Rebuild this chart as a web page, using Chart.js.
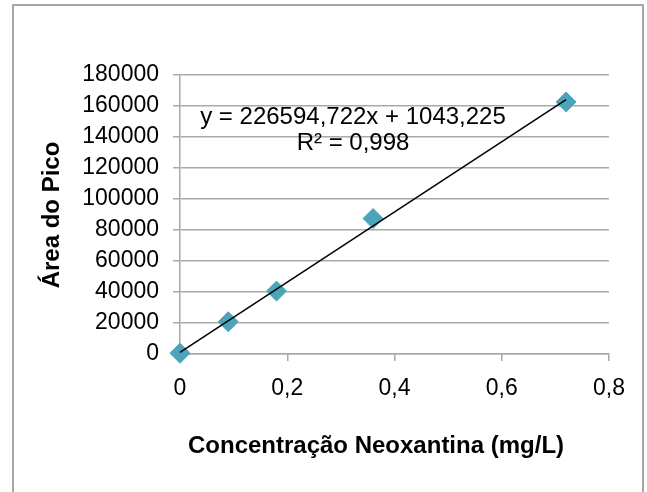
<!DOCTYPE html>
<html>
<head>
<meta charset="utf-8">
<script src="https://cdn.jsdelivr.net/npm/chart.js@4"></script>
<style>
  html, body { margin: 0; padding: 0; background: #fff; }
  #wrap { width: 647px; height: 492px; }
</style>
</head>
<body>
<div id="wrap"><canvas id="c" width="647" height="492"></canvas></div>
<script>
// calibration points
const concentrations = [0, 0.09, 0.18, 0.36, 0.72];
const peakAreas = [500, 20800, 40600, 87400, 162600];

// linear trendline as printed on the chart
const slope = 226594.722;
const intercept = 1043.225;
const equationText = "y = 226594,722x + 1043,225";
const r2Text = "R\u00b2 = 0,998";

const xTitle = "Concentração Neoxantina (mg/L)";
const yTitle = "Área do Pico";

const FONT = '"Liberation Sans", Arial, sans-serif';
const GRID = "#a9a9a9";
const MARKER = "#4aa5ba";

const points = concentrations.map((x, i) => ({ x, y: peakAreas[i] }));
const xEnd = concentrations[concentrations.length - 1];
const trend = [
  { x: concentrations[0], y: slope * concentrations[0] + intercept },
  { x: xEnd, y: slope * xEnd + intercept },
];

const fmtComma = (v) => (v === 0 ? "0" : Number(v).toFixed(1).replace(".", ","));

// frame, axis titles and trendline label
const annotations = {
  id: "annotations",
  beforeDraw(chart) {
    const { ctx } = chart;
    ctx.save();
    ctx.fillStyle = "#fff";
    ctx.fillRect(0, 0, chart.width, chart.height);
    ctx.strokeStyle = "#a6a6a6";
    ctx.lineWidth = 2;
    ctx.strokeRect(13, 5, 630, 500);
    ctx.restore();
  },
  afterDraw(chart) {
    const { ctx } = chart;
    ctx.save();
    ctx.fillStyle = "#000";
    ctx.textAlign = "center";
    ctx.textBaseline = "middle";

    ctx.font = `bold 24px ${FONT}`;
    ctx.fillText(xTitle, 376, 446);
    ctx.translate(52, 215);
    ctx.rotate(-Math.PI / 2);
    ctx.fillText(yTitle, 0, 0);
    ctx.setTransform(1, 0, 0, 1, 0, 0);

    ctx.font = `24px ${FONT}`;
    ctx.fillText(equationText, 353, 117);
    ctx.fillText(r2Text, 353, 143);
    ctx.restore();
  },
};

new Chart(document.getElementById("c"), {
  type: "scatter",
  data: {
    datasets: [
      {
        type: "line",
        label: "Linear",
        data: trend,
        borderColor: "#000",
        borderWidth: 1.5,
        pointRadius: 0,
        fill: false,
        clip: false,
      },
      {
        label: "Área",
        data: points,
        pointStyle: "rectRot",
        pointRadius: 10,
        backgroundColor: MARKER,
        borderColor: MARKER,
        borderWidth: 1,
        clip: false,
      },
    ],
  },
  options: {
    responsive: false,
    animation: false,
    layout: { padding: { top: 75, right: 38, bottom: 0, left: 0 } },
    plugins: {
      legend: { display: false },
      tooltip: { enabled: false },
    },
    scales: {
      x: {
        type: "linear",
        min: 0,
        max: 0.8,
        afterFit(scale) { scale.height = 138; },
        ticks: {
          stepSize: 0.2,
          padding: 14,
          color: "#000",
          font: { family: FONT, size: 23 },
          callback: (v) => fmtComma(v),
        },
        grid: { drawOnChartArea: false, tickLength: 7, color: GRID, lineWidth: 1.5 },
        border: { color: GRID, width: 1.5 },
      },
      y: {
        min: 0,
        max: 180000,
        afterFit(scale) { scale.width = 180; },
        ticks: {
          stepSize: 20000,
          padding: 14,
          color: "#000",
          font: { family: FONT, size: 23 },
          callback: (v) => String(v),
        },
        grid: { tickLength: 7, color: GRID, lineWidth: 1.5 },
        border: { color: GRID, width: 1.5 },
      },
    },
  },
  plugins: [annotations],
});
</script>
</body>
</html>
